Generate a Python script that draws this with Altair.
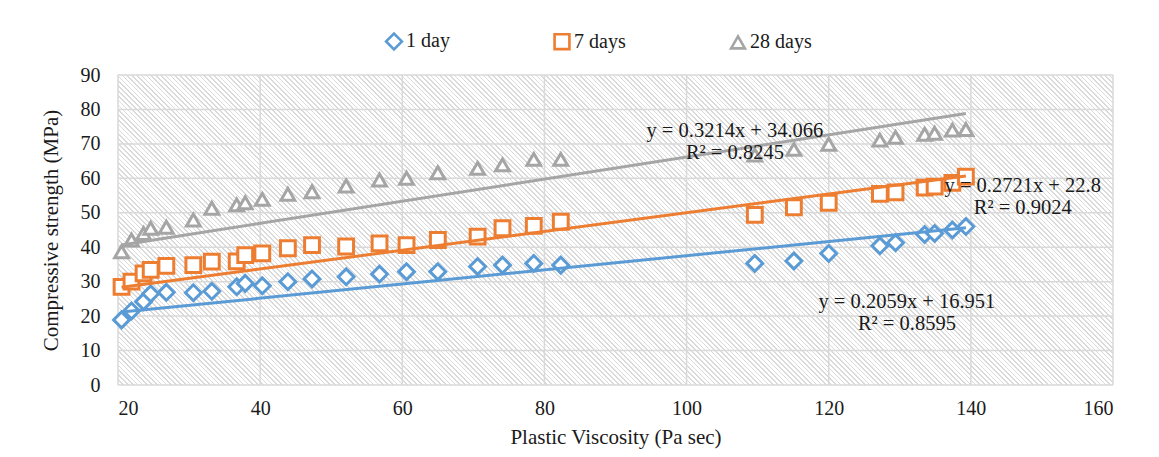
import math
import altair as alt
import pandas as pd

# ---- data ----
series_names = ["1 day", "7 days", "28 days"]
colors = ["#5B9BD5", "#ED7D31", "#A5A5A5"]
shapes = ["diamond", "square", "triangle-up"]
marker_sizes = [250, 190, 200]

viscosity = [20.5, 21.9, 23.6, 24.6, 26.8, 30.6, 33.2, 36.7, 37.9, 40.3,
             43.9, 47.3, 52.1, 56.8, 60.6, 65.0, 70.6, 74.1, 78.5, 82.3,
             109.6, 115.1, 120.0, 127.2, 129.4, 133.5, 134.9, 137.4, 139.3]
day1 = [18.9, 21.5, 24.2, 26.5, 26.9, 26.8, 27.2, 28.5, 29.5, 28.8,
        30.0, 30.8, 31.4, 32.2, 32.9, 32.9, 34.4, 34.8, 35.3, 34.8,
        35.3, 36.0, 38.2, 40.4, 41.3, 43.7, 44.0, 45.0, 46.0]
day7 = [28.5, 30.0, 32.4, 33.4, 34.6, 34.8, 35.8, 35.9, 37.7, 38.2,
        39.7, 40.6, 40.2, 41.1, 40.6, 42.1, 43.1, 45.5, 46.2, 47.4,
        49.4, 51.6, 52.9, 55.5, 55.9, 57.3, 57.6, 58.7, 60.5]
day28 = [38.7, 42.1, 44.0, 45.5, 45.8, 47.9, 51.3, 52.3, 52.9, 53.9,
         55.4, 56.1, 57.8, 59.5, 60.0, 61.6, 62.9, 63.9, 65.5, 65.5,
         66.8, 68.4, 69.9, 71.1, 71.9, 72.8, 73.1, 74.0, 74.2]

slopes = [0.2059, 0.2721, 0.3214]
intercepts = [16.951, 22.8, 34.066]
equations = ["y = 0.2059x + 16.951\nR² = 0.8595",
             "y = 0.2721x + 22.8\nR² = 0.9024",
             "y = 0.3214x + 34.066\nR² = 0.8245"]
label_x = [131.0, 147.3, 106.8]
label_y = [24.1, 57.8, 73.75]

x_ticks = [20, 40, 60, 80, 100, 120, 140, 160]
y_ticks = [0, 10, 20, 30, 40, 50, 60, 70, 80, 90]
x_title = "Plastic Viscosity (Pa sec)"
y_title = "Compressive strength (MPa)"

# ---- tables ----
pts = pd.DataFrame({
    "x": viscosity * 3,
    "y": day1 + day7 + day28,
    "series": [s for s in series_names for _ in viscosity],
})
trend = pd.DataFrame({
    "series": [s for s in series_names for _ in range(2)],
    "x": [min(viscosity), max(viscosity)] * 3,
    "slope": [m for m in slopes for _ in range(2)],
    "b": [b for b in intercepts for _ in range(2)],
})
labels = pd.DataFrame({"x": label_x, "y": label_y, "text": equations})

W, H = 995, 310
FONT = "Liberation Serif"
AFONT = "Liberation Serif, Times New Roman, serif"
TXT = "#1a1a1a"

# diagonal hatch background via a striped gradient
period = 3.4
n = int(((W + H) / math.sqrt(2)) / period)
stops = []
for k in range(n):
    a, b_, c = k / n, (k + 0.34) / n, (k + 1) / n
    stops += [{"offset": a, "color": "#dadada"}, {"offset": b_, "color": "#dadada"},
              {"offset": b_, "color": "#ffffff"}, {"offset": c, "color": "#ffffff"}]
s = ((1 + H / W) / (1 + (H / W) ** 2))
hatch = {"gradient": "linear", "x1": 0, "y1": 1, "x2": s, "y2": 1 - s * H / W,
         "stops": stops}

xs = alt.Scale(domain=[20, 160], nice=False, zero=False)
ys = alt.Scale(domain=[0, 90], nice=False)
cscale = alt.Scale(domain=series_names, range=colors)
sscale = alt.Scale(domain=series_names, range=shapes)
zscale = alt.Scale(domain=series_names, range=marker_sizes)

xaxis = alt.Axis(values=x_ticks, labelFont=AFONT, labelFontSize=20, labelColor=TXT,
                 titleFont=AFONT, titleFontSize=21, titleFontWeight="normal",
                 titleColor=TXT, labelPadding=13, titlePadding=8,
                 domain=False, ticks=False, grid=False)
yaxis = alt.Axis(values=y_ticks, labelFont=AFONT, labelFontSize=20, labelColor=TXT,
                 titleFont=AFONT, titleFontSize=21, titleFontWeight="normal",
                 titleColor=TXT, labelPadding=18, titlePadding=19,
                 domain=False, ticks=False, grid=False)


def X(field):
    return alt.X(field, scale=xs, axis=xaxis, title=x_title)


def Y(field):
    return alt.Y(field, scale=ys, axis=yaxis, title=y_title)


bg = alt.Chart(alt.Data(values=[{}])).mark_rect(fill=hatch, strokeWidth=0).encode(
    x=alt.datum(x_ticks[0], scale=xs, axis=xaxis, title=x_title),
    x2=alt.datum(x_ticks[-1]),
    y=alt.datum(y_ticks[0], scale=ys, axis=yaxis, title=y_title),
    y2=alt.datum(y_ticks[-1]),
)

vgrid = alt.Chart(pd.DataFrame({"v": x_ticks})).mark_rule(
    color="#d9d9d9", strokeWidth=1.5).encode(x=X("v:Q"))
hgrid = alt.Chart(pd.DataFrame({"v": y_ticks})).mark_rule(
    color="#d9d9d9", strokeWidth=1.5).encode(y=Y("v:Q"))

leg = alt.Legend(title=None, orient="none", direction="horizontal",
                 legendX=266, legendY=-44, columnPadding=99,
                 labelFont=AFONT, labelFontSize=20, labelColor=TXT,
                 symbolSize=95, symbolStrokeWidth=2.6, symbolFillColor="white",
                 labelOffset=2, padding=0)

points = alt.Chart(pts).mark_point(filled=False, fill="white",
                                   strokeWidth=3, opacity=1).encode(
    x=X("x:Q"),
    y=Y("y:Q"),
    color=alt.Color("series:N", scale=cscale, legend=leg),
    shape=alt.Shape("series:N", scale=sscale, legend=leg),
    size=alt.Size("series:N", scale=zscale, legend=None),
)

lines = alt.Chart(trend).transform_calculate(
    yy="datum.slope * datum.x + datum.b"
).mark_line(strokeWidth=3).encode(
    x=X("x:Q"),
    y=Y("yy:Q"),
    color=alt.Color("series:N", scale=cscale, legend=None),
)

texts = alt.Chart(labels).mark_text(font=FONT, fontSize=20.5, lineBreak="\n",
                                    lineHeight=22, color=TXT,
                                    align="center", baseline="middle").encode(
    x=X("x:Q"), y=Y("y:Q"), text="text:N")

chart = alt.layer(bg, vgrid, hgrid, points, lines, texts).properties(
    width=W, height=H,
    autosize=alt.AutoSizeParams(type="none"),
    padding={"left": 118, "top": 75, "right": 46, "bottom": 72},
    background="white",
).configure(font=FONT).configure_view(stroke=None)

chart.save("out.html", embed_options={"renderer": "svg", "actions": False})
